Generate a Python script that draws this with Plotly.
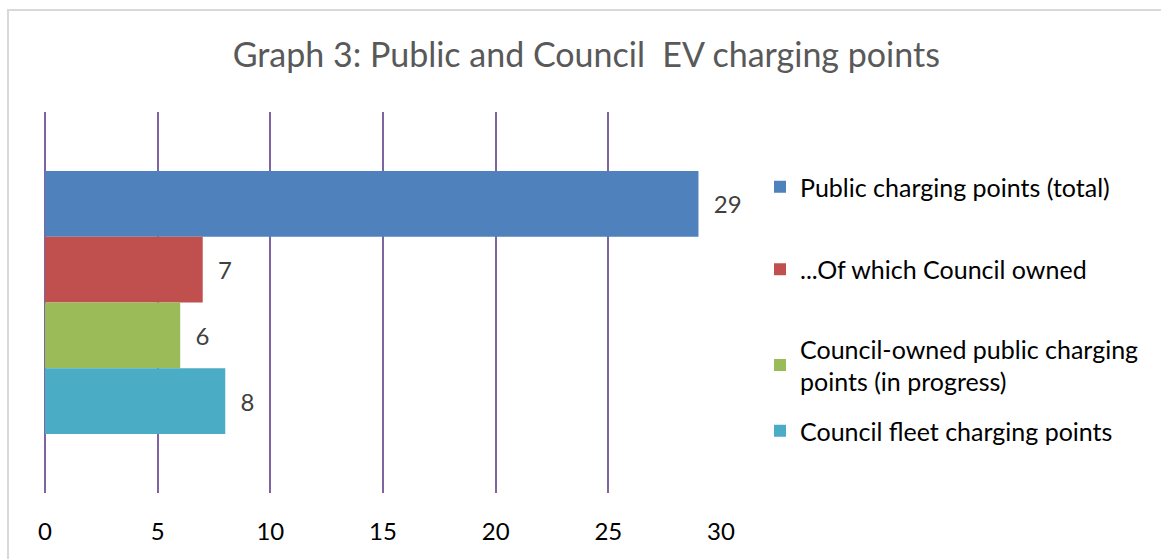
import plotly.graph_objects as go

category = ["EV charging points"]
series_names = [
    "Public charging points (total)",
    "...Of which Council owned",
    "Council-owned public charging<br>points (in progress)",
    "Council fleet charging points",
]
series_values = [29, 7, 6, 8]
series_colors = ["#4F81BD", "#C0504D", "#9BBB59", "#4BACC6"]
series_legends = ["legend", "legend", "legend2", "legend2"]
tick_values = [0, 5, 10, 15, 20, 25, 30]

fig = go.Figure()
for name, val, col, lg in zip(series_names, series_values, series_colors, series_legends):
    fig.add_trace(go.Bar(
        y=category, x=[val], name=name, orientation="h",
        marker=dict(color=col, line=dict(width=0)),
        texttemplate="&nbsp;&nbsp;%{x}", textposition="outside",
        textfont=dict(size=24, color="#404040", family="Lato"),
        cliponaxis=False, legendgroup=name, constraintext="none",
        legend=lg,
    ))

W, H = 1161, 559
L, R, T, B = 45, 440, 112, 66
pw, ph = W - L - R, H - T - B

def px_x(p):
    return (p - L) / pw

def px_y(p):
    return (H - B - p) / ph

legend_font = dict(size=25, color="black", family="Lato")

fig.update_layout(
    width=W, height=H,
    margin=dict(l=L, r=R, t=T, b=B),
    paper_bgcolor="white", plot_bgcolor="white",
    barmode="group", bargap=0.31, bargroupgap=0,
    title=dict(text="Graph 3: Public and Council&nbsp;&nbsp;EV charging points",
               x=0.505, xanchor="center", y=1 - 55 / H, yanchor="middle",
               font=dict(size=34, color="#595959", family="Lato")),
    font=dict(family="Lato", color="black"),
    legend=dict(x=px_x(760), xanchor="left", y=px_y(164), yanchor="top",
                font=legend_font, tracegroupgap=47, itemwidth=30,
                bgcolor="rgba(0,0,0,0)"),
    legend2=dict(x=px_x(760), xanchor="left", y=px_y(326), yanchor="top",
                 font=legend_font, tracegroupgap=14, itemwidth=30,
                 bgcolor="rgba(0,0,0,0)"),
    xaxis=dict(range=[0, 30], tickvals=tick_values, showgrid=True,
               gridcolor="#8064A2", gridwidth=2, zeroline=True,
               zerolinecolor="#8064A2", zerolinewidth=2, showline=False,
               ticks="", ticklabelstandoff=22,
               tickfont=dict(size=24, color="black", family="Lato")),
    yaxis=dict(showticklabels=False, showgrid=False, zeroline=False,
               autorange="reversed", showline=False),
    showlegend=True,
)

fig.add_shape(type="rect", xref="paper", yref="paper",
              x0=px_x(8), x1=px_x(1170), y0=px_y(570), y1=px_y(10),
              line=dict(color="#D9D9D9", width=2), fillcolor="rgba(0,0,0,0)",
              layer="below")

fig.write_html("out.html", config={"displayModeBar": False},
               post_script="document.body.style.margin='0';")
